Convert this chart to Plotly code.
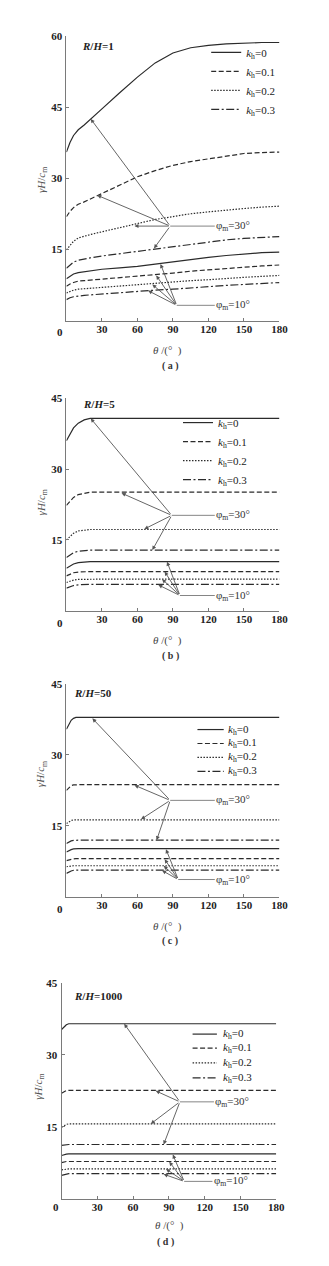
import plotly.graph_objects as go

W, H = 329, 1266

kh_labels = ["<i>k</i><sub>h</sub>=0", "<i>k</i><sub>h</sub>=0.1",
             "<i>k</i><sub>h</sub>=0.2", "<i>k</i><sub>h</sub>=0.3"]
dash_styles = ["solid", "5px,2.5px", "1.5px,1.5px", "8px,2.5px,2px,2.5px"]

# ---------------- panel (a) R/H = 1 ----------------
theta_a = [0, 3, 6, 10, 15, 20, 30, 45, 60, 75, 90, 105, 120, 135, 150, 165, 180]
a30_k0 = [35.5, 37.5, 39.0, 40.2, 41.2, 42.4, 44.6, 48.0, 51.3, 54.3, 56.4, 57.5, 58.0, 58.3, 58.5, 58.6, 58.6]
a30_k1 = [21.9, 23.0, 23.8, 24.5, 25.0, 25.6, 26.8, 28.6, 30.3, 31.6, 32.7, 33.5, 34.1, 34.7, 35.2, 35.4, 35.5]
a30_k2 = [14.9, 15.9, 16.7, 17.4, 17.8, 18.1, 18.7, 19.6, 20.5, 21.3, 21.9, 22.5, 22.9, 23.3, 23.6, 23.9, 24.1]
a30_k3 = [11.0, 11.7, 12.3, 12.7, 13.0, 13.2, 13.6, 14.1, 14.6, 15.1, 15.6, 16.1, 16.6, 17.0, 17.3, 17.5, 17.7]
a10_k0 = [8.8, 9.4, 9.8, 10.1, 10.3, 10.5, 10.8, 11.1, 11.4, 11.9, 12.4, 12.9, 13.3, 13.7, 14.0, 14.3, 14.4]
a10_k1 = [7.2, 7.7, 8.0, 8.3, 8.4, 8.5, 8.7, 9.0, 9.3, 9.6, 10.0, 10.4, 10.7, 11.0, 11.3, 11.5, 11.7]
a10_k2 = [5.8, 6.1, 6.4, 6.6, 6.7, 6.8, 6.9, 7.2, 7.5, 7.8, 8.1, 8.4, 8.6, 8.9, 9.1, 9.3, 9.5]
a10_k3 = [4.4, 4.8, 5.0, 5.2, 5.3, 5.4, 5.6, 5.9, 6.2, 6.4, 6.6, 6.9, 7.2, 7.4, 7.6, 7.8, 8.0]

# ---------------- panel (b) R/H = 5 ----------------
theta_b = [0, 3, 6, 10, 15, 20, 30, 60, 90, 120, 150, 180]
b30_k0 = [36.0, 37.5, 38.7, 39.7, 40.4, 40.7, 40.7, 40.7, 40.7, 40.7, 40.7, 40.7]
b30_k1 = [22.3, 23.2, 24.0, 24.6, 24.9, 25.1, 25.1, 25.1, 25.1, 25.1, 25.1, 25.1]
b30_k2 = [15.0, 15.8, 16.4, 16.9, 17.1, 17.2, 17.2, 17.2, 17.2, 17.2, 17.2, 17.2]
b30_k3 = [11.3, 11.9, 12.3, 12.6, 12.8, 12.85, 12.85, 12.85, 12.85, 12.85, 12.85, 12.85]
b10_k0 = [9.0, 9.5, 9.9, 10.2, 10.35, 10.4, 10.4, 10.4, 10.4, 10.4, 10.4, 10.4]
b10_k1 = [7.4, 7.8, 8.05, 8.2, 8.3, 8.3, 8.3, 8.3, 8.3, 8.3, 8.3, 8.3]
b10_k2 = [6.0, 6.3, 6.5, 6.65, 6.7, 6.7, 6.7, 6.7, 6.7, 6.7, 6.7, 6.7]
b10_k3 = [4.8, 5.1, 5.35, 5.5, 5.6, 5.6, 5.6, 5.6, 5.6, 5.6, 5.6, 5.6]

# ---------------- panel (c) R/H = 50 ----------------
theta_c = [0, 2, 4, 6, 8, 10, 30, 60, 90, 120, 150, 180]
c30_k0 = [35.4, 36.5, 37.3, 37.7, 37.9, 37.9, 37.9, 37.9, 37.9, 37.9, 37.9, 37.9]
c30_k1 = [22.5, 23.1, 23.5, 23.65, 23.7, 23.7, 23.7, 23.7, 23.7, 23.7, 23.7, 23.7]
c30_k2 = [15.5, 15.9, 16.15, 16.3, 16.3, 16.3, 16.3, 16.3, 16.3, 16.3, 16.3, 16.3]
c30_k3 = [11.3, 11.6, 11.85, 11.95, 12.0, 12.0, 12.0, 12.0, 12.0, 12.0, 12.0, 12.0]
c10_k0 = [9.5, 9.8, 10.0, 10.15, 10.2, 10.2, 10.2, 10.2, 10.2, 10.2, 10.2, 10.2]
c10_k1 = [7.7, 7.85, 8.0, 8.05, 8.1, 8.1, 8.1, 8.1, 8.1, 8.1, 8.1, 8.1]
c10_k2 = [6.4, 6.5, 6.55, 6.6, 6.6, 6.6, 6.6, 6.6, 6.6, 6.6, 6.6, 6.6]
c10_k3 = [5.0, 5.3, 5.5, 5.65, 5.7, 5.7, 5.7, 5.7, 5.7, 5.7, 5.7, 5.7]

# ---------------- panel (d) R/H = 1000 ----------------
theta_d = [0, 2, 4, 6, 8, 30, 60, 90, 120, 150, 180]
d30_k0 = [35.3, 35.9, 36.3, 36.5, 36.5, 36.5, 36.5, 36.5, 36.5, 36.5, 36.5]
d30_k1 = [22.0, 22.35, 22.55, 22.6, 22.6, 22.6, 22.6, 22.6, 22.6, 22.6, 22.6]
d30_k2 = [14.9, 15.3, 15.5, 15.6, 15.6, 15.6, 15.6, 15.6, 15.6, 15.6, 15.6]
d30_k3 = [11.1, 11.2, 11.3, 11.3, 11.3, 11.3, 11.3, 11.3, 11.3, 11.3, 11.3]
d10_k0 = [9.0, 9.2, 9.3, 9.35, 9.35, 9.35, 9.35, 9.35, 9.35, 9.35, 9.35]
d10_k1 = [7.5, 7.65, 7.75, 7.75, 7.75, 7.75, 7.75, 7.75, 7.75, 7.75, 7.75]
d10_k2 = [6.0, 6.1, 6.2, 6.2, 6.2, 6.2, 6.2, 6.2, 6.2, 6.2, 6.2]
d10_k3 = [4.85, 5.0, 5.15, 5.2, 5.2, 5.2, 5.2, 5.2, 5.2, 5.2, 5.2]

# annotation pointers: (theta, value) of the label junction and arrow heads
a_p30 = (87.7, 19.9); a_h30 = [(20.5, 42.5), (26, 26.4), (57.5, 19.9), (74, 15.2)]
a_p10 = (93.2, 3.2);  a_h10 = [(79.5, 11.9), (75.9, 9.5), (72.6, 7.6), (69, 6.3)]
b_p30 = (89, 20.2);   b_h30 = [(20.5, 40.7), (46.6, 24.9), (65.8, 17.3), (72.6, 12.85)]
b_p10 = (95.9, 3.24); b_h10 = [(85, 10.4), (83, 8.3), (80.8, 6.7), (77.6, 5.5)]
c_p30 = (87.7, 20.4); c_h30 = [(21.9, 37.7), (57.5, 23.6), (63, 16.4), (76.2, 12.0)]
c_p10 = (94.5, 3.7);  c_h10 = [(84.1, 10.1), (83, 8.0), (82.2, 6.6), (80.8, 5.6)]
d_p30 = (99.2, 20.2); d_h30 = [(52.5, 36.5), (78.9, 22.5), (74.8, 15.6), (85.6, 11.3)]
d_p10 = (102.8, 3.6); d_h10 = [(93.3, 9.2), (90.3, 7.7), (87.6, 6.2), (85.6, 5.1)]

# legend placement: native legend (top-left px) or a compact key (line x0, x1, text x, row ys)
panels = [
    dict(name="a", rh="1", theta=theta_a, s30=[a30_k0, a30_k1, a30_k2, a30_k3],
         s10=[a10_k0, a10_k1, a10_k2, a10_k3], ymax=60, yt=[15, 30, 45, 60],
         xpx=(68.3, 287.3), ypx=(30, 316), p30=a_p30, h30=a_h30, p10=a_p10, h10=a_h10,
         lab30=141, lab10=141, rhpos=(82, 40), ytitle=(43, 175),
         legpos=(212, 32), key=None, zero=(62, 328), xtitle=(172, 346), plab=(175, 362)),
    dict(name="b", rh="5", theta=theta_b, s30=[b30_k0, b30_k1, b30_k2, b30_k3],
         s10=[b10_k0, b10_k1, b10_k2, b10_k3], ymax=45, yt=[15, 30, 45],
         xpx=(68.3, 287.3), ypx=(394, 607.7), p30=b_p30, h30=b_h30, p10=b_p10, h10=b_h10,
         lab30=141, lab10=141, rhpos=(83, 400), ytitle=(43, 499),
         legpos=(183, 404), key=None, zero=(62, 620), xtitle=(172, 638), plab=(175, 653)),
    dict(name="c", rh="50", theta=theta_c, s30=[c30_k0, c30_k1, c30_k2, c30_k3],
         s10=[c10_k0, c10_k1, c10_k2, c10_k3], ymax=45, yt=[15, 30, 45],
         xpx=(68.3, 287.3), ypx=(681, 895.3), p30=c_p30, h30=c_h30, p10=c_p10, h10=c_h10,
         lab30=141, lab10=141, rhpos=(74, 690), ytitle=(43, 772),
         legpos=None, key=(203, 230, 232, [727, 741, 755, 769]),
         zero=(62, 907), xtitle=(172, 925), plab=(175, 939)),
    dict(name="d", rh="1000", theta=theta_d, s30=[d30_k0, d30_k1, d30_k2, d30_k3],
         s10=[d10_k0, d10_k1, d10_k2, d10_k3], ymax=45, yt=[15, 30, 45],
         xpx=(63.3, 284), ypx=(981.7, 1198.3), p30=d_p30, h30=d_h30, p10=d_p10, h10=d_h10,
         lab30=143.3, lab10=142, rhpos=(74, 995), ytitle=(40, 1086),
         legpos=None, key=(198, 223, 227, [1033, 1047, 1062, 1077]),
         zero=(58, 1207), xtitle=(174, 1225), plab=(170, 1242)),
]

def px(x):
    return x / W

def py(y):
    return 1 - y / H

SERIF = "Liberation Serif, Times New Roman, serif"
LINE_C = "#2b2b2b"
AXIS_C = "#7a7a7a"
ARROW_C = "#555555"
TICKF = dict(family=SERIF, size=11, color="#222")
LEGF = dict(family=SERIF, size=11, color="#222")

fig = go.Figure()
annotations = []
shapes = []
layout = {}

def paper_text(text, xy, font, **kw):
    d = dict(text=text, x=px(xy[0]), y=py(xy[1]), xref="paper", yref="paper",
             xanchor="center", yanchor="middle", showarrow=False, font=font)
    d.update(kw)
    return d

leg_idx = 0
for i, p in enumerate(panels):
    n = i + 1
    xa = "x" if n == 1 else f"x{n}"
    ya = "y" if n == 1 else f"y{n}"
    native = p["legpos"] is not None
    if native:
        leg_idx += 1
        leg = "legend" if leg_idx == 1 else f"legend{leg_idx}"
    else:
        leg = "legend"
    for j in range(4):
        fig.add_trace(go.Scatter(
            x=p["theta"], y=p["s30"][j], mode="lines", xaxis=xa, yaxis=ya,
            name=kh_labels[j], legend=leg, showlegend=native,
            line=dict(color=LINE_C, width=1.2, dash=dash_styles[j]), hoverinfo="skip"))
    for j in range(4):
        fig.add_trace(go.Scatter(
            x=p["theta"], y=p["s10"][j], mode="lines", xaxis=xa, yaxis=ya,
            name=kh_labels[j], legend=leg, showlegend=False,
            line=dict(color=LINE_C, width=1.2, dash=dash_styles[j]), hoverinfo="skip"))

    xkey = "xaxis" if n == 1 else f"xaxis{n}"
    ykey = "yaxis" if n == 1 else f"yaxis{n}"
    layout[xkey] = dict(
        domain=[px(p["xpx"][0]), px(p["xpx"][1])], range=[0, 180], anchor=ya,
        tickvals=[0, 30, 60, 90, 120, 150, 180],
        ticktext=["", "<b>30</b>", "<b>60</b>", "<b>90</b>", "<b>120</b>", "<b>150</b>", "<b>180</b>"],
        ticks="inside", ticklen=3, tickcolor=AXIS_C, showline=True, linecolor=AXIS_C,
        linewidth=1, showgrid=False, zeroline=False, ticklabelstandoff=-2,
        tickfont=TICKF)
    layout[ykey] = dict(
        domain=[py(p["ypx"][1]), py(p["ypx"][0])], range=[0, p["ymax"]], anchor=xa,
        tickvals=p["yt"], ticktext=[f"<b>{v}</b>" for v in p["yt"]],
        ticks="inside", ticklen=3, tickcolor=AXIS_C, showline=True,
        linecolor=AXIS_C, linewidth=1, showgrid=False, zeroline=False,
        ticklabelstandoff=1, tickfont=TICKF)
    if native:
        layout[leg] = dict(
            x=px(p["legpos"][0]), y=py(p["legpos"][1]), xanchor="left", yanchor="top",
            bgcolor="rgba(0,0,0,0)", borderwidth=0, itemwidth=30,
            font=LEGF, tracegroupgap=0)
    else:
        lx0, lx1, tx, rows = p["key"]
        for j, ry in enumerate(rows):
            shapes.append(dict(type="line", xref="paper", yref="paper",
                               x0=px(lx0), x1=px(lx1), y0=py(ry), y1=py(ry),
                               line=dict(color=LINE_C, width=1.2, dash=dash_styles[j])))
            annotations.append(paper_text(kh_labels[j], (tx, ry), LEGF, xanchor="left"))

    # "0" x tick label shifted left as in the original
    annotations.append(paper_text("<b>0</b>", p["zero"], TICKF))
    # R/H label
    annotations.append(paper_text(f"<b><i>R</i>/<i>H</i>={p['rh']}</b>", p["rhpos"],
                                  dict(family=SERIF, size=11, color="#222"), xanchor="left"))
    # y title
    annotations.append(paper_text("<i>γH</i>/<i>c</i><sub>m</sub>", p["ytitle"],
                                  dict(family=SERIF, size=11, color="#555"), textangle=-90))
    # x title and panel label
    annotations.append(paper_text("<i>θ</i> /(°  )", p["xtitle"],
                                  dict(family=SERIF, size=11, color="#444")))
    annotations.append(paper_text("<b>( " + p["name"] + " )</b>", p["plab"],
                                  dict(family=SERIF, size=10, color="#333")))
    # pointer groups
    for (pt, heads, labx, txt) in [(p["p30"], p["h30"], p["lab30"], "30°"),
                                   (p["p10"], p["h10"], p["lab10"], "10°")]:
        for hx, hy in heads:
            annotations.append(dict(x=hx, y=hy, ax=pt[0], ay=pt[1], xref=xa, yref=ya,
                                    axref=xa, ayref=ya, text="", showarrow=True,
                                    arrowhead=2, arrowsize=0.9, arrowwidth=0.9,
                                    arrowcolor=ARROW_C, standoff=0, startstandoff=0))
        annotations.append(dict(x=pt[0], y=pt[1], ax=labx, ay=pt[1], xref=xa, yref=ya,
                                axref=xa, ayref=ya,
                                text="φ<sub>m</sub>=" + txt, showarrow=True,
                                arrowhead=0, arrowwidth=0.9, arrowcolor="#777",
                                font=dict(family=SERIF, size=11, color="#333")))

fig.update_layout(
    width=W, height=H, margin=dict(l=0, r=0, t=0, b=0),
    paper_bgcolor="white", plot_bgcolor="white",
    annotations=annotations, shapes=shapes, **layout)

fig.write_html("out.html")
